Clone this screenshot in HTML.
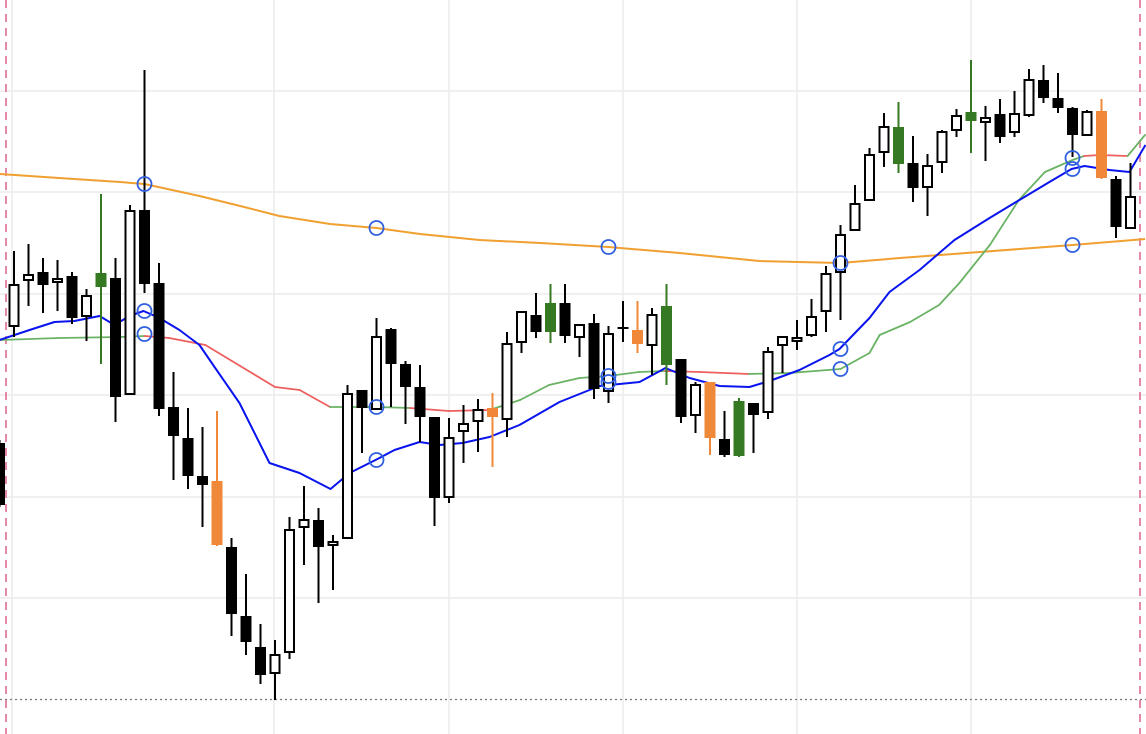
<!DOCTYPE html>
<html><head><meta charset="utf-8"><style>
html,body{margin:0;padding:0;background:#fff;}
svg{display:block;}
</style></head><body>
<svg id="chart" width="1146" height="734" xmlns="http://www.w3.org/2000/svg">
<g id="grid"></g>
<g id="lines"></g>
<g id="candles"></g>
<g id="markers"></g>
</svg>
<script>
const opens=[257,373,419,428,417,424,383,427,422,305,490,417,293,262,224,219,153,84,53,26,47,172,180,154,161,310,290,371,336,313,283,202,268,278,292,280,357,385,397,397,362,377,308,373,370,354,394,341,284,318,261,299,297,287,354,358,364,388,427,469,499,547,573,537,512,537,569,588,577,586,567,584,620,602,592,564,589,521,471];
const highs=[260,449,456,442,440,428,411,506,442,495,630,437,328,292,273,289,162,126,76,60,183,214,192,165,315,310,382,372,339,335,283,282,295,301,307,368,389,407,416,416,376,386,374,399,399,392,416,341,318,318,289,302,297,353,364,380,401,434,475,515,552,587,598,564,546,570,591,640,594,601,609,631,635,627,593,590,601,524,537];
const lows=[193,363,394,387,389,376,359,336,278,305,407,284,220,211,173,154,64,45,16,0,41,135,97,110,161,247,290,293,276,258,174,197,237,248,233,263,347,362,357,357,343,301,297,358,347,325,315,277,267,245,243,243,247,281,327,350,363,368,380,469,499,533,527,498,484,527,563,547,539,557,563,583,597,587,543,564,521,462,471];
const closes=[195,416,426,415,422,382,405,413,303,490,416,291,264,224,215,155,86,58,25,46,171,181,153,159,307,292,364,336,313,283,202,263,277,291,283,357,389,368,368,364,376,311,367,371,356,386,335,283,316,262,245,244,285,349,364,363,384,427,466,497,546,574,536,512,535,569,585,579,583,563,587,621,602,592,565,589,522,473,504];
const greenIdx=[7,38,46,51,62,67];
const orangeIdx=[15,34,44,49,76];
const longMaIdx=[0,4.1,8.3,10,13.8,16.6,19.3,22.8,26,29,33.1,37.3,42,46.9,52.4,58,62.1,67.6,74,79];
const longMaVal=[526,522,518,516,504,494,484,476,472,466,460,457,453,447,439,437,442,448,455,461];
const midMaIdx=[0,4.1,8.3,10,11.7,14.2,16.6,19,20.7,22.8,26,28.3,31,33.8,35.9,37.9,40,42,44.1,45.9,48.3,51.7,54.5,58,60,60.7,62.8,64.8,66.2,68.3,70.3,72.1,74,74.8,75.9,77.8,79];
const midMaVal=[360,362,363,364,362,355,334,313,310,293,293,292,289,290,300,315,322,324,328,329,328,326,327,331,347,365,378,395,417,455,500,528,540,544,545,544,565];
const midMaRegime=['g','g','g','r','r','r','r','r','r','g','g','r','r','g','g','g','g','g','g','r','r','g','g','g','g','g','g','g','g','g','g','g','g','r','r','g'];
const fastMaIdx=[0,2.07,3.79,5.17,6.9,7.93,8.97,9.93,11.03,12.41,13.79,14.83,16.55,18.62,20.69,22.83,24.14,25.93,27.24,28.97,30.34,31.93,33.79,35.86,38.62,41.38,44.14,45.93,47.59,49.66,51.72,53.1,55.17,57.24,57.93,60,61.38,63.45,65.86,68.28,70.34,72.41,73.93,74.83,76.55,77.93,79.03];
const fastMaVal=[360,370,378,379,384,375,384,389,382,370,355,333,297,237,227,211,227,240,250,258,255,257,263,275,298,314,318,332,322,314,313,319,330,345,351,382,408,430,460,482,500,518,531,534,530,528,555];
const markerIdx=[10,10,10,26,26,26,42,42,42,58,58,58,74,74,74];
const markerVal=[516,389,366,472,293,240,453,324,318,437,351,331,542,531,455];

const NS='http://www.w3.org/2000/svg';
function xS(i){return 14.5*i-0.5;}
function yS(v){return 700-v;}
function mk(tag,attrs,parent){const e=document.createElementNS(NS,tag);for(const k in attrs)e.setAttribute(k,attrs[k]);parent.appendChild(e);return e;}

const grid=document.getElementById('grid');
[91,192,294,395,497,598].forEach(y=>{
  const l=mk('line',{x1:0,x2:1146,y1:y,y2:y,stroke:'#ececec','stroke-width':1.5},grid);
  
  
});
[12,274,449,623,797,971].forEach(x=>{
  const l=mk('line',{x1:x,x2:x,y1:0,y2:734,stroke:'#ececec','stroke-width':1.5},grid);
  
  
});
[6,1140].forEach(x=>{
  const l=mk('line',{x1:x,x2:x,y1:0,y2:734,stroke:'#e48aa8','stroke-width':2,'stroke-dasharray':'8,6'},grid);
  
  
});
const bl=mk('line',{x1:0,x2:1146,y1:699.5,y2:699.5,stroke:'#777','stroke-width':1.2,'stroke-dasharray':'2,3'},grid);



const lines=document.getElementById('lines');
function poly(ix,vals,color,w){
  const pts=ix.map((x,k)=>xS(x)+','+yS(vals[k])).join(' ');
  return mk('polyline',{points:pts,fill:'none',stroke:color,'stroke-width':w,'stroke-linejoin':'round'},lines);
}
const lo=poly(longMaIdx,longMaVal,'#f0a030',2);


for(let k=0;k<midMaIdx.length-1;k++){
  const s=mk('line',{x1:xS(midMaIdx[k]),y1:yS(midMaVal[k]),x2:xS(midMaIdx[k+1]),y2:yS(midMaVal[k+1]),stroke:midMaRegime[k]==='g'?'#6ab364':'#ee5f5f','stroke-width':1.8,'stroke-linecap':'round'},lines);
  
  
}
const fa=poly(fastMaIdx,fastMaVal,'#0a14ee',2);



const cg=document.getElementById('candles');
for(let i=0;i<opens.length;i++){
  const x=xS(i);
  let fill='#000',stroke='#000';
  const up=closes[i]>opens[i];
  if(greenIdx.includes(i)){fill=stroke='#357a22';}
  else if(orangeIdx.includes(i)){fill=stroke='#f0883a';}
  else if(up){fill='#fff';}
  const g=mk('g',{},cg);
  
  
  mk('line',{x1:x,x2:x,y1:yS(highs[i]),y2:yS(lows[i]),stroke:stroke,'stroke-width':2},g);
  const top=yS(Math.max(opens[i],closes[i])), bot=yS(Math.min(opens[i],closes[i]));
  const hollow=fill==='#fff';
  mk('rect',{x:x-5.5+(hollow?1:0),y:top+(hollow?1:0),width:11-(hollow?2:0),height:Math.max(bot-top-(hollow?2:0),2),fill:fill,stroke:hollow?'#000':'none','stroke-width':2},g);
}

const mg=document.getElementById('markers');
for(let k=0;k<markerIdx.length;k++){
  const c=mk('circle',{cx:xS(markerIdx[k]),cy:yS(markerVal[k]),r:7,fill:'none',stroke:'#3060e0','stroke-width':1.8},mg);
  
  
}
</script>
</body></html>
